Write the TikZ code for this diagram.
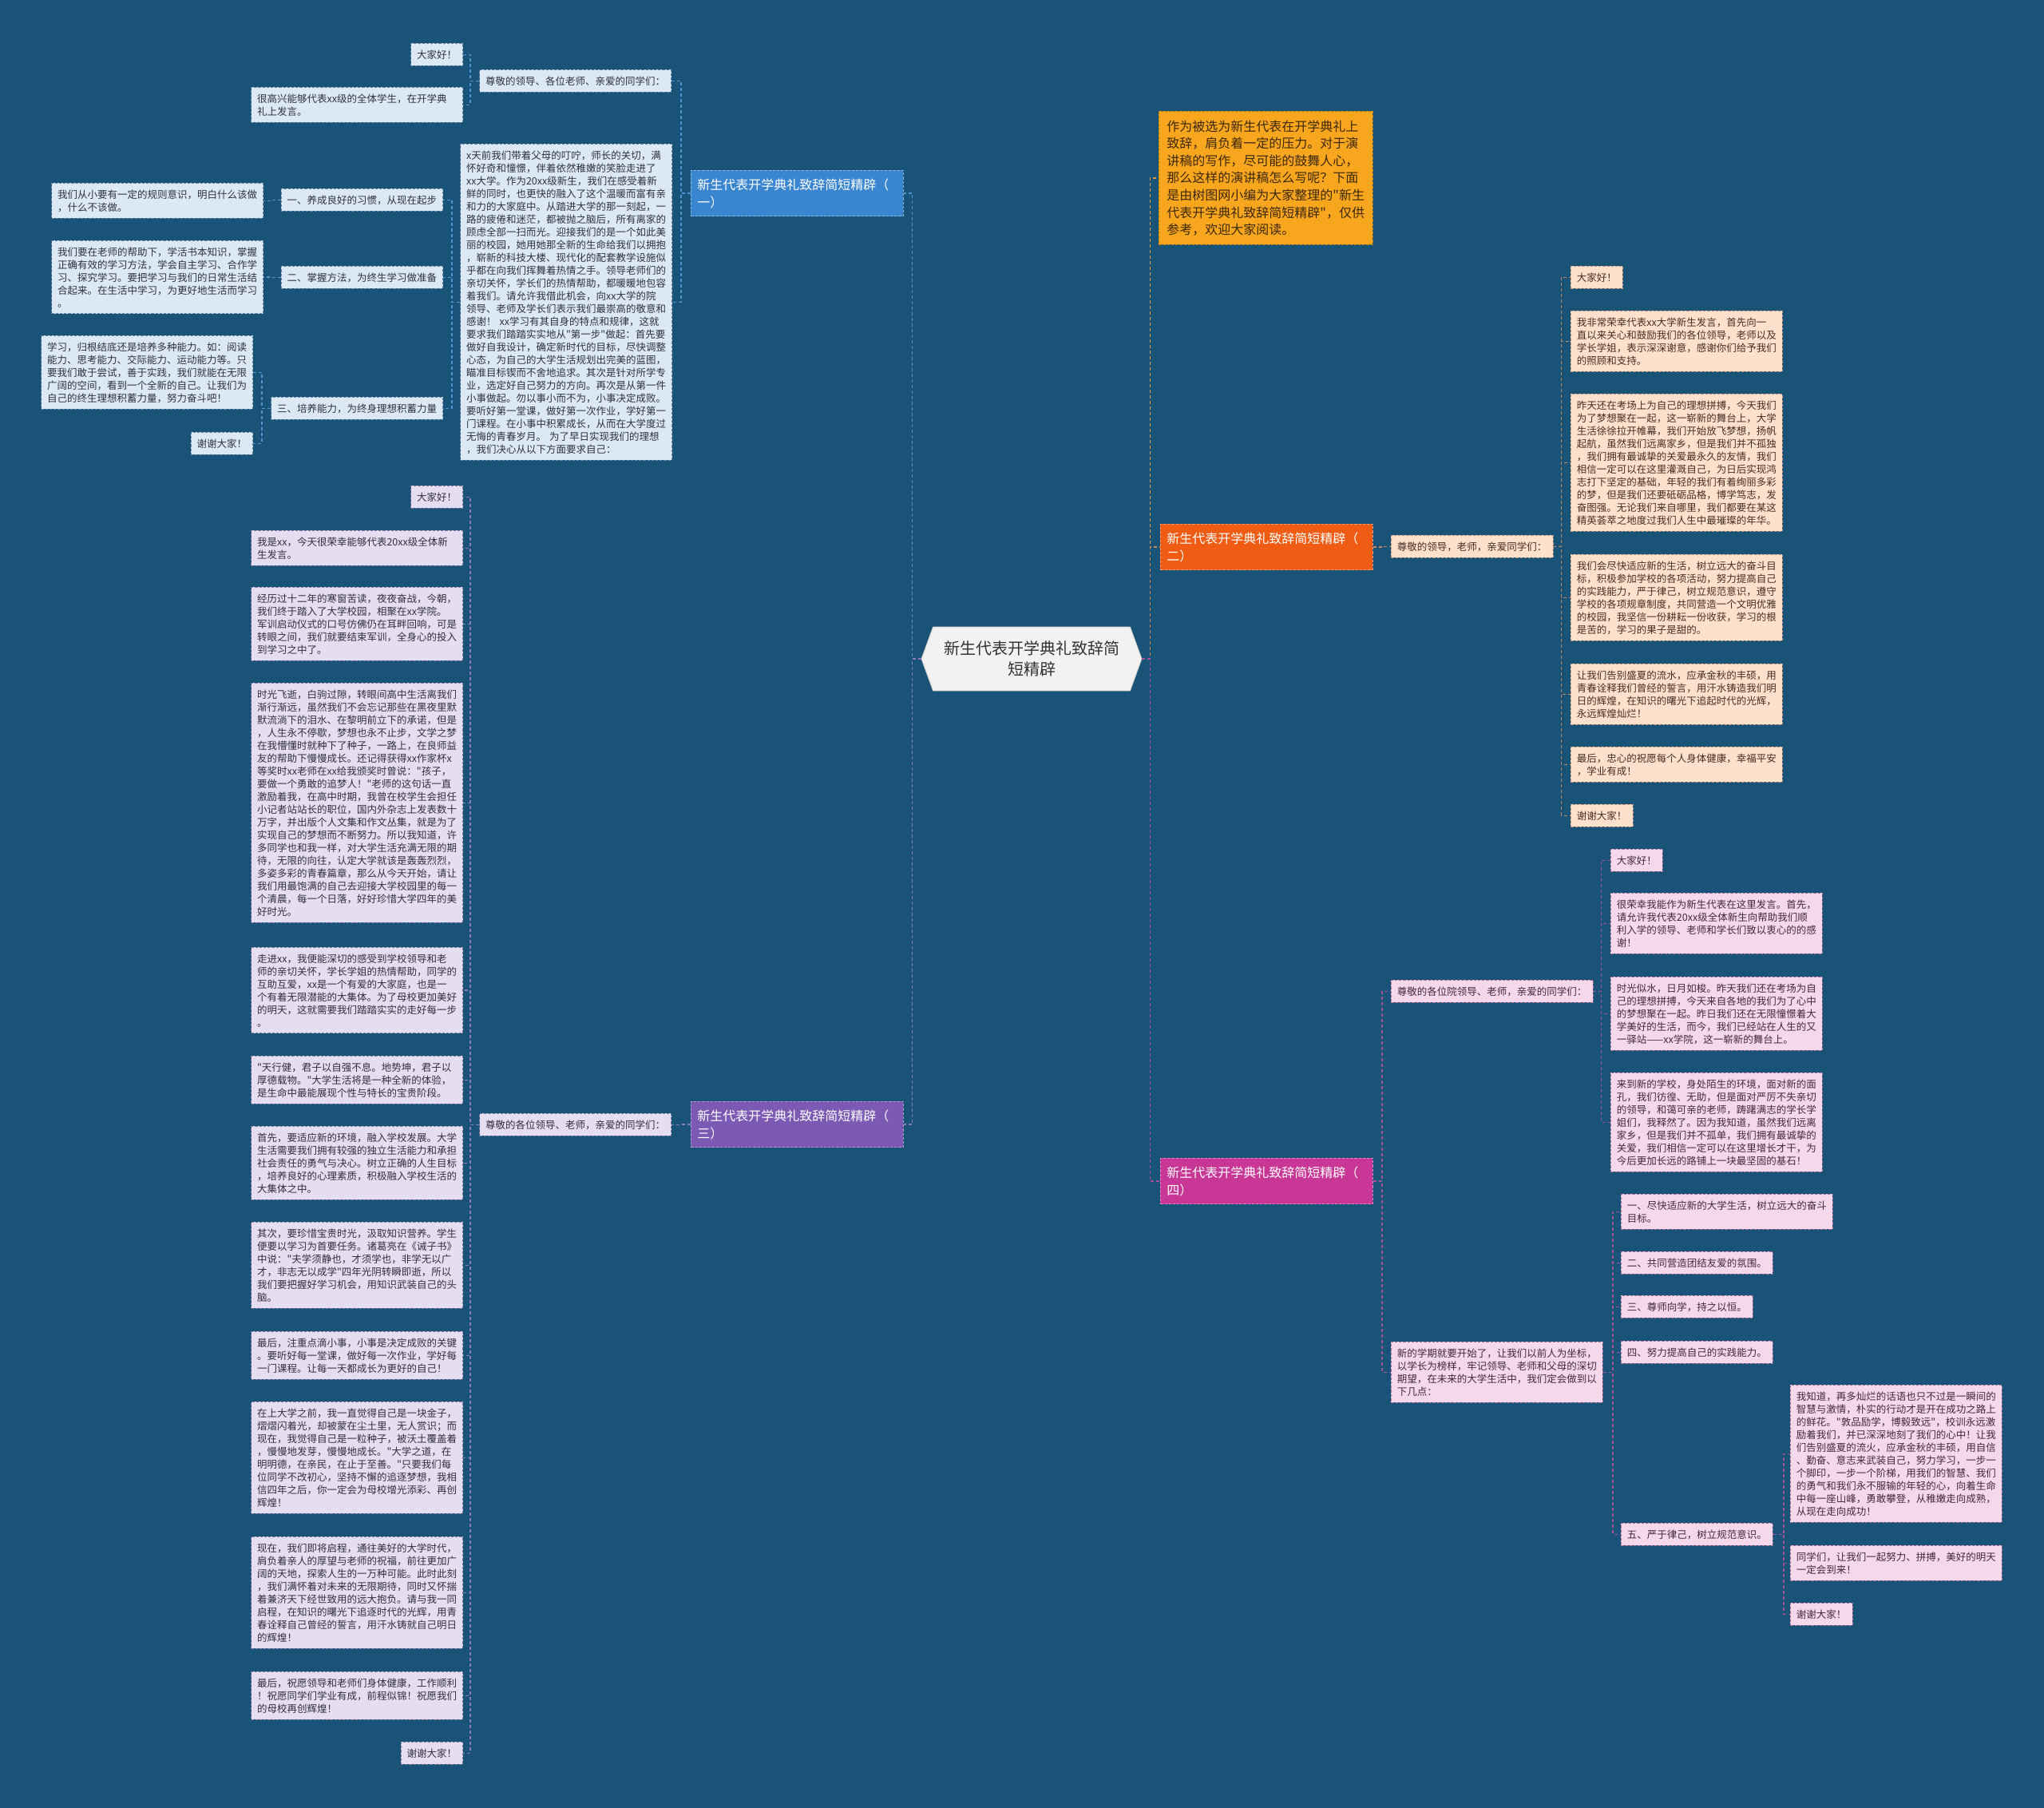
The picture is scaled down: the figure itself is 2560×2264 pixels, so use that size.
\documentclass[tikz,border=0pt]{standalone}
\usepackage{fontspec}
\setmainfont{Noto Sans CJK SC}[Ligatures=TeXOff]
\usetikzlibrary{shapes.symbols}

\begin{document}
\begin{tikzpicture}[
    x=0.5pt, y=-0.5pt,
    font=\fontsize{6.25}{8}\selectfont,
    card/.style={dashed, dash pattern=on 1.6pt off 1pt, line width=0.45pt,
        align=left, inner xsep=3.75pt, inner ysep=4pt},
    wide/.style={text width=125pt},
    cardA/.style={card, fill=fillA, draw=rimA, text=inkA, anchor=north east},
    cardB/.style={card, fill=fillB, draw=rimB, text=inkB, anchor=north west},
    cardC/.style={card, fill=fillC, draw=rimC, text=inkC, anchor=north east},
    cardD/.style={card, fill=fillD, draw=rimD, text=inkD, anchor=north west},
    branch/.style={dashed, dash pattern=on 1.6pt off 1pt, line width=0.45pt,
        font=\fontsize{8}{11}\selectfont, text=white, align=left,
        text width=125pt, inner xsep=4pt, inner ysep=5pt, anchor=north west},
    root/.style={shape=signal, signal to=west and east, signal pointer angle=140,
        fill=rootfill, draw=rootrim, text=rootink, align=center,
        font=\fontsize{10}{13}\selectfont, minimum width=138pt, minimum height=40pt},
    intro/.style={dashed, dash pattern=on 1.6pt off 1pt, line width=0.45pt,
        fill=introfill, draw=introrim, text=introink, align=left,
        font=\fontsize{8}{10.8}\selectfont, inner xsep=5pt, inner ysep=5.5pt,
        anchor=north west},
    linkA/.style={draw=lineA, dash pattern=on 2pt off 1.5pt, line width=0.7pt},
    linkB/.style={draw=lineB, dash pattern=on 2pt off 1.5pt, line width=0.7pt},
    linkC/.style={draw=lineC, dash pattern=on 2pt off 1.5pt, line width=0.7pt},
    linkD/.style={draw=lineD, dash pattern=on 2pt off 1.5pt, line width=0.7pt},
    linkI/.style={draw=lineI, dash pattern=on 2pt off 1.5pt, line width=0.7pt}
]
% Define colors
\definecolor{bgblue}{RGB}{26,83,120}
\definecolor{rootfill}{RGB}{242,242,242}
\definecolor{rootrim}{RGB}{200,200,200}
\definecolor{rootink}{RGB}{51,51,51}
\definecolor{introfill}{RGB}{248,166,30}
\definecolor{introrim}{RGB}{190,120,20}
\definecolor{introink}{RGB}{60,40,10}
\definecolor{headA}{RGB}{58,133,207}
\definecolor{headB}{RGB}{240,92,20}
\definecolor{headC}{RGB}{124,90,180}
\definecolor{headD}{RGB}{200,55,150}
\definecolor{fillA}{RGB}{220,233,245}
\definecolor{fillB}{RGB}{253,225,205}
\definecolor{fillC}{RGB}{228,222,240}
\definecolor{fillD}{RGB}{246,216,236}
\definecolor{rimA}{RGB}{100,135,170}
\definecolor{rimB}{RGB}{190,145,120}
\definecolor{rimC}{RGB}{130,120,165}
\definecolor{rimD}{RGB}{170,110,150}
\definecolor{inkA}{RGB}{45,50,60}
\definecolor{inkB}{RGB}{70,45,35}
\definecolor{inkC}{RGB}{50,45,65}
\definecolor{inkD}{RGB}{65,40,60}
\definecolor{lineA}{RGB}{80,148,212}
\definecolor{lineB}{RGB}{192,138,96}
\definecolor{lineC}{RGB}{142,124,195}
\definecolor{lineD}{RGB}{165,80,155}
\definecolor{lineI}{RGB}{212,160,64}

% Canvas
\useasboundingbox (0,0) rectangle (2560,2264);
\fill[bgblue] (0,0) rectangle (2560,2264);

% Column positions (pixels)
\def\colA{580}    % right edge, left leaves
\def\colB{1967}   % left edge, branch 2 leaves
\def\colD{2017}   % left edge, branch 4 greeting leaves
\def\colK{2030}   % left edge, branch 4 points
\def\colM{2242}   % left edge, point five leaves

% Root and branches
\node[root] (root) at (1292,825) {新生代表开学典礼致辞简\\短精辟};
\node[branch, fill=headA, draw=headA!60!white] (b1) at (865,213) {新生代表开学典礼致辞简短精辟（\\一）};
\node[branch, fill=headB, draw=headB!60!white] (b2) at (1453,656) {新生代表开学典礼致辞简短精辟（\\二）};
\node[branch, fill=headC, draw=headC!60!white] (b3) at (865,1379) {新生代表开学典礼致辞简短精辟（\\三）};
\node[branch, fill=headD, draw=headD!60!white] (b4) at (1453,1450) {新生代表开学典礼致辞简短精辟（\\四）};
\node[intro] (intro) at (1451,139) {作为被选为新生代表在开学典礼上\\致辞，肩负着一定的压力。对于演\\讲稿的写作，尽可能的鼓舞人心，\\那么这样的演讲稿怎么写呢？下面\\是由树图网小编为大家整理的"新生\\代表开学典礼致辞简短精辟"，仅供\\参考，欢迎大家阅读。};

% Branch one
\node[cardA] (greetA) at (841,87) {尊敬的领导、各位老师、亲爱的同学们：};
\node[cardA] (helloA) at (\colA,54) {大家好！};
\node[cardA, wide] (gladA) at (\colA,109) {很高兴能够代表xx级的全体学生，在开学典\\礼上发言。};
\node[cardA, wide] (longA) at (842,180) {x天前我们带着父母的叮咛，师长的关切，满\\怀好奇和憧憬，伴着依然稚嫩的笑脸走进了\\xx大学。作为20xx级新生，我们在感受着新\\鲜的同时，也更快的融入了这个温暖而富有亲\\和力的大家庭中。从踏进大学的那一刻起，一\\路的疲倦和迷茫，都被抛之脑后，所有离家的\\顾虑全部一扫而光。迎接我们的是一个如此美\\丽的校园，她用她那全新的生命给我们以拥抱\\，崭新的科技大楼、现代化的配套教学设施似\\乎都在向我们挥舞着热情之手。领导老师们的\\亲切关怀，学长们的热情帮助，都暖暖地包容\\着我们。请允许我借此机会，向xx大学的院\\领导、老师及学长们表示我们最崇高的敬意和\\感谢！ xx学习有其自身的特点和规律，这就\\要求我们踏踏实实地从"第一步"做起：首先要\\做好自我设计，确定新时代的目标，尽快调整\\心态，为自己的大学生活规划出完美的蓝图，\\瞄准目标锲而不舍地追求。其次是针对所学专\\业，选定好自己努力的方向。再次是从第一件\\小事做起。勿以事小而不为，小事决定成败。\\要听好第一堂课，做好第一次作业，学好第一\\门课程。在小事中积累成长，从而在大学度过\\无悔的青春岁月。 为了早日实现我们的理想\\，我们决心从以下方面要求自己：};
\node[cardA] (habitA) at (555,236) {一、养成良好的习惯，从现在起步};
\node[cardA] (methodA) at (555,333) {二、掌握方法，为终生学习做准备};
\node[cardA] (abilityA) at (555,497) {三、培养能力，为终身理想积蓄力量};
\node[cardA, wide] (ruleA) at (330,229) {我们从小要有一定的规则意识，明白什么该做\\，什么不该做。};
\node[cardA, wide] (learnA) at (330,301) {我们要在老师的帮助下，学活书本知识，掌握\\正确有效的学习方法，学会自主学习、合作学\\习、探究学习。要把学习与我们的日常生活结\\合起来。在生活中学习，为更好地生活而学习\\。};
\node[cardA, wide] (powerA) at (317,420) {学习，归根结底还是培养多种能力。如：阅读\\能力、思考能力、交际能力、运动能力等。只\\要我们敢于尝试，善于实践，我们就能在无限\\广阔的空间，看到一个全新的自己。让我们为\\自己的终生理想积蓄力量，努力奋斗吧！};
\node[cardA] (thanksA) at (317,541) {谢谢大家！};

% Branch three
\node[cardC] (greetC) at (841,1394) {尊敬的各位领导、老师，亲爱的同学们：};
\node[cardC] (c1) at (\colA,608) {大家好！};
\node[cardC, wide] (c2) at (\colA,664) {我是xx，今天很荣幸能够代表20xx级全体新\\生发言。};
\node[cardC, wide] (c3) at (\colA,735) {经历过十二年的寒窗苦读，夜夜奋战，今朝，\\我们终于踏入了大学校园，相聚在xx学院。\\军训启动仪式的口号仿佛仍在耳畔回响，可是\\转眼之间，我们就要结束军训，全身心的投入\\到学习之中了。};
\node[cardC, wide] (c4) at (\colA,855) {时光飞逝，白驹过隙，转眼间高中生活离我们\\渐行渐远，虽然我们不会忘记那些在黑夜里默\\默流淌下的泪水、在黎明前立下的承诺，但是\\，人生永不停歇，梦想也永不止步，文学之梦\\在我懵懂时就种下了种子，一路上，在良师益\\友的帮助下慢慢成长。还记得获得xx作家杯x\\等奖时xx老师在xx给我颁奖时曾说："孩子，\\要做一个勇敢的追梦人！"老师的这句话一直\\激励着我，在高中时期，我曾在校学生会担任\\小记者站站长的职位，国内外杂志上发表数十\\万字，并出版个人文集和作文丛集，就是为了\\实现自己的梦想而不断努力。所以我知道，许\\多同学也和我一样，对大学生活充满无限的期\\待，无限的向往，认定大学就该是轰轰烈烈，\\多姿多彩的青春篇章，那么从今天开始，请让\\我们用最饱满的自己去迎接大学校园里的每一\\个清晨，每一个日落，好好珍惜大学四年的美\\好时光。};
\node[cardC, wide] (c5) at (\colA,1186) {走进xx，我便能深切的感受到学校领导和老\\师的亲切关怀，学长学姐的热情帮助，同学的\\互助互爱，xx是一个有爱的大家庭，也是一\\个有着无限潜能的大集体。为了母校更加美好\\的明天，这就需要我们踏踏实实的走好每一步\\。};
\node[cardC, wide] (c6) at (\colA,1322) {"天行健，君子以自强不息。地势坤，君子以\\厚德载物。"大学生活将是一种全新的体验，\\是生命中最能展现个性与特长的宝贵阶段。};
\node[cardC, wide] (c7) at (\colA,1410) {首先，要适应新的环境，融入学校发展。大学\\生活需要我们拥有较强的独立生活能力和承担\\社会责任的勇气与决心。树立正确的人生目标\\，培养良好的心理素质，积极融入学校生活的\\大集体之中。};
\node[cardC, wide] (c8) at (\colA,1530) {其次，要珍惜宝贵时光，汲取知识营养。学生\\便要以学习为首要任务。诸葛亮在《诫子书》\\中说："夫学须静也，才须学也，非学无以广\\才，非志无以成学"四年光阴转瞬即逝，所以\\我们要把握好学习机会，用知识武装自己的头\\脑。};
\node[cardC, wide] (c9) at (\colA,1667) {最后，注重点滴小事，小事是决定成败的关键\\。要听好每一堂课，做好每一次作业，学好每\\一门课程。让每一天都成长为更好的自己！};
\node[cardC, wide] (c10) at (\colA,1755) {在上大学之前，我一直觉得自己是一块金子，\\熠熠闪着光，却被蒙在尘土里，无人赏识；而\\现在，我觉得自己是一粒种子，被沃土覆盖着\\，慢慢地发芽，慢慢地成长。"大学之道，在\\明明德，在亲民，在止于至善。"只要我们每\\位同学不改初心，坚持不懈的追逐梦想，我相\\信四年之后，你一定会为母校增光添彩、再创\\辉煌！};
\node[cardC, wide] (c11) at (\colA,1924) {现在，我们即将启程，通往美好的大学时代，\\肩负着亲人的厚望与老师的祝福，前往更加广\\阔的天地，探索人生的一万种可能。此时此刻\\，我们满怀着对未来的无限期待，同时又怀揣\\着兼济天下经世致用的远大抱负。请与我一同\\启程，在知识的曙光下追逐时代的光辉，用青\\春诠释自己曾经的誓言，用汗水铸就自己明日\\的辉煌！};
\node[cardC, wide] (c12) at (\colA,2093) {最后，祝愿领导和老师们身体健康，工作顺利\\！祝愿同学们学业有成，前程似锦！祝愿我们\\的母校再创辉煌！};
\node[cardC] (c13) at (\colA,2181) {谢谢大家！};

% Branch two
\node[cardB] (greetB) at (1742,670) {尊敬的领导，老师，亲爱同学们：};
\node[cardB] (p1) at (\colB,333) {大家好！};
\node[cardB, wide] (p2) at (\colB,389) {我非常荣幸代表xx大学新生发言，首先向一\\直以来关心和鼓励我们的各位领导，老师以及\\学长学姐，表示深深谢意，感谢你们给予我们\\的照顾和支持。};
\node[cardB, wide] (p3) at (\colB,493) {昨天还在考场上为自己的理想拼搏，今天我们\\为了梦想聚在一起，这一崭新的舞台上，大学\\生活徐徐拉开帷幕，我们开始放飞梦想，扬帆\\起航，虽然我们远离家乡，但是我们并不孤独\\，我们拥有最诚挚的关爱最永久的友情，我们\\相信一定可以在这里灌溉自己，为日后实现鸿\\志打下坚定的基础，年轻的我们有着绚丽多彩\\的梦，但是我们还要砥砺品格，博学笃志，发\\奋图强。无论我们来自哪里，我们都要在某这\\精英荟萃之地度过我们人生中最璀璨的年华。};
\node[cardB, wide] (p4) at (\colB,694) {我们会尽快适应新的生活，树立远大的奋斗目\\标，积极参加学校的各项活动，努力提高自己\\的实践能力，严于律己，树立规范意识，遵守\\学校的各项规章制度，共同营造一个文明优雅\\的校园，我坚信一份耕耘一份收获，学习的根\\是苦的，学习的果子是甜的。};
\node[cardB, wide] (p5) at (\colB,831) {让我们告别盛夏的流水，应承金秋的丰硕，用\\青春诠释我们曾经的誓言，用汗水铸造我们明\\日的辉煌，在知识的曙光下追起时代的光辉，\\永远辉煌灿烂！};
\node[cardB, wide] (p6) at (\colB,935) {最后，忠心的祝愿每个人身体健康，幸福平安\\，学业有成！};
\node[cardB] (p7) at (\colB,1007) {谢谢大家！};

% Branch four
\node[cardD] (greetD) at (1742,1227) {尊敬的各位院领导、老师，亲爱的同学们：};
\node[cardD, wide] (planD) at (1742,1680) {新的学期就要开始了，让我们以前人为坐标，\\以学长为榜样，牢记领导、老师和父母的深切\\期望，在未来的大学生活中，我们定会做到以\\下几点：};
\node[cardD] (d1) at (\colD,1063) {大家好！};
\node[cardD, wide] (d2) at (\colD,1118) {很荣幸我能作为新生代表在这里发言。首先，\\请允许我代表20xx级全体新生向帮助我们顺\\利入学的领导、老师和学长们致以衷心的的感\\谢！};
\node[cardD, wide] (d3) at (\colD,1223) {时光似水，日月如梭。昨天我们还在考场为自\\己的理想拼搏，今天来自各地的我们为了心中\\的梦想聚在一起。昨日我们还在无限憧憬着大\\学美好的生活，而今，我们已经站在人生的又\\一驿站——xx学院，这一崭新的舞台上。};
\node[cardD, wide] (d4) at (\colD,1343) {来到新的学校，身处陌生的环境，面对新的面\\孔，我们彷徨、无助，但是面对严厉不失亲切\\的领导，和蔼可亲的老师，踌躇满志的学长学\\姐们，我释然了。因为我知道，虽然我们远离\\家乡，但是我们并不孤单，我们拥有最诚挚的\\关爱，我们相信一定可以在这里增长才干，为\\今后更加长远的路铺上一块最坚固的基石！};
\node[cardD, wide] (k1) at (\colK,1495) {一、尽快适应新的大学生活，树立远大的奋斗\\目标。};
\node[cardD] (k2) at (\colK,1567) {二、共同营造团结友爱的氛围。};
\node[cardD] (k3) at (\colK,1622) {三、尊师向学，持之以恒。};
\node[cardD] (k4) at (\colK,1679) {四、努力提高自己的实践能力。};
\node[cardD] (k5) at (\colK,1907) {五、严于律己，树立规范意识。};
\node[cardD, wide] (m1) at (\colM,1734) {我知道，再多灿烂的话语也只不过是一瞬间的\\智慧与激情，朴实的行动才是开在成功之路上\\的鲜花。"敦品励学，博毅致远"，校训永远激\\励着我们，并已深深地刻了我们的心中！让我\\们告别盛夏的流火，应承金秋的丰硕，用自信\\、勤奋、意志来武装自己，努力学习，一步一\\个脚印，一步一个阶梯，用我们的智慧、我们\\的勇气和我们永不服输的年轻的心，向着生命\\中每一座山峰，勇敢攀登，从稚嫩走向成熟，\\从现在走向成功！};
\node[cardD, wide] (m2) at (\colM,1935) {同学们，让我们一起努力、拼搏，美好的明天\\一定会到来！};
\node[cardD] (m3) at (\colM,2007) {谢谢大家！};

% Connectors: root to branches
\draw[linkA] (root.west) -- ++(-11,0) |- (b1.east);
\draw[linkC] (root.west) -- ++(-11,0) |- (b3.east);
\draw[linkI] (root.east) -- ++(10,0) |- (intro.west);
\draw[linkB] (root.east) -- ++(10,0) |- (b2.west);
\draw[linkD] (root.east) -- ++(10,0) |- (b4.west);

% Connectors: branch one
\foreach \n in {greetA,longA} \draw[linkA] (b1.west) -- ++(-12,0) |- (\n.east);
\foreach \n in {helloA,gladA} \draw[linkA] (greetA.west) -- ++(-11,0) |- (\n.east);
\foreach \n in {habitA,methodA,abilityA} \draw[linkA] (longA.west) -- ++(-10,0) |- (\n.east);
\draw[linkA] (habitA.west) -- ++(-11,0) |- (ruleA.east);
\draw[linkA] (methodA.west) -- ++(-11,0) |- (learnA.east);
\foreach \n in {powerA,thanksA} \draw[linkA] (abilityA.west) -- ++(-11,0) |- (\n.east);

% Connectors: branch three
\draw[linkC] (b3.west) -- ++(-12,0) |- (greetC.east);
\foreach \i in {1,...,13} \draw[linkC] (greetC.west) -- ++(-11,0) |- (c\i.east);

% Connectors: branch two
\draw[linkB] (b2.east) -- ++(11,0) |- (greetB.west);
\foreach \i in {1,...,7} \draw[linkB] (greetB.east) -- ++(10,0) |- (p\i.west);

% Connectors: branch four
\foreach \n in {greetD,planD} \draw[linkD] (b4.east) -- ++(11,0) |- (\n.west);
\foreach \i in {1,...,4} \draw[linkD] (greetD.east) -- ++(10,0) |- (d\i.west);
\foreach \i in {1,...,5} \draw[linkD] (planD.east) -- ++(12,0) |- (k\i.west);
\foreach \i in {1,2,3} \draw[linkD] (k5.east) -- ++(13,0) |- (m\i.west);

\end{tikzpicture}
\end{document}
